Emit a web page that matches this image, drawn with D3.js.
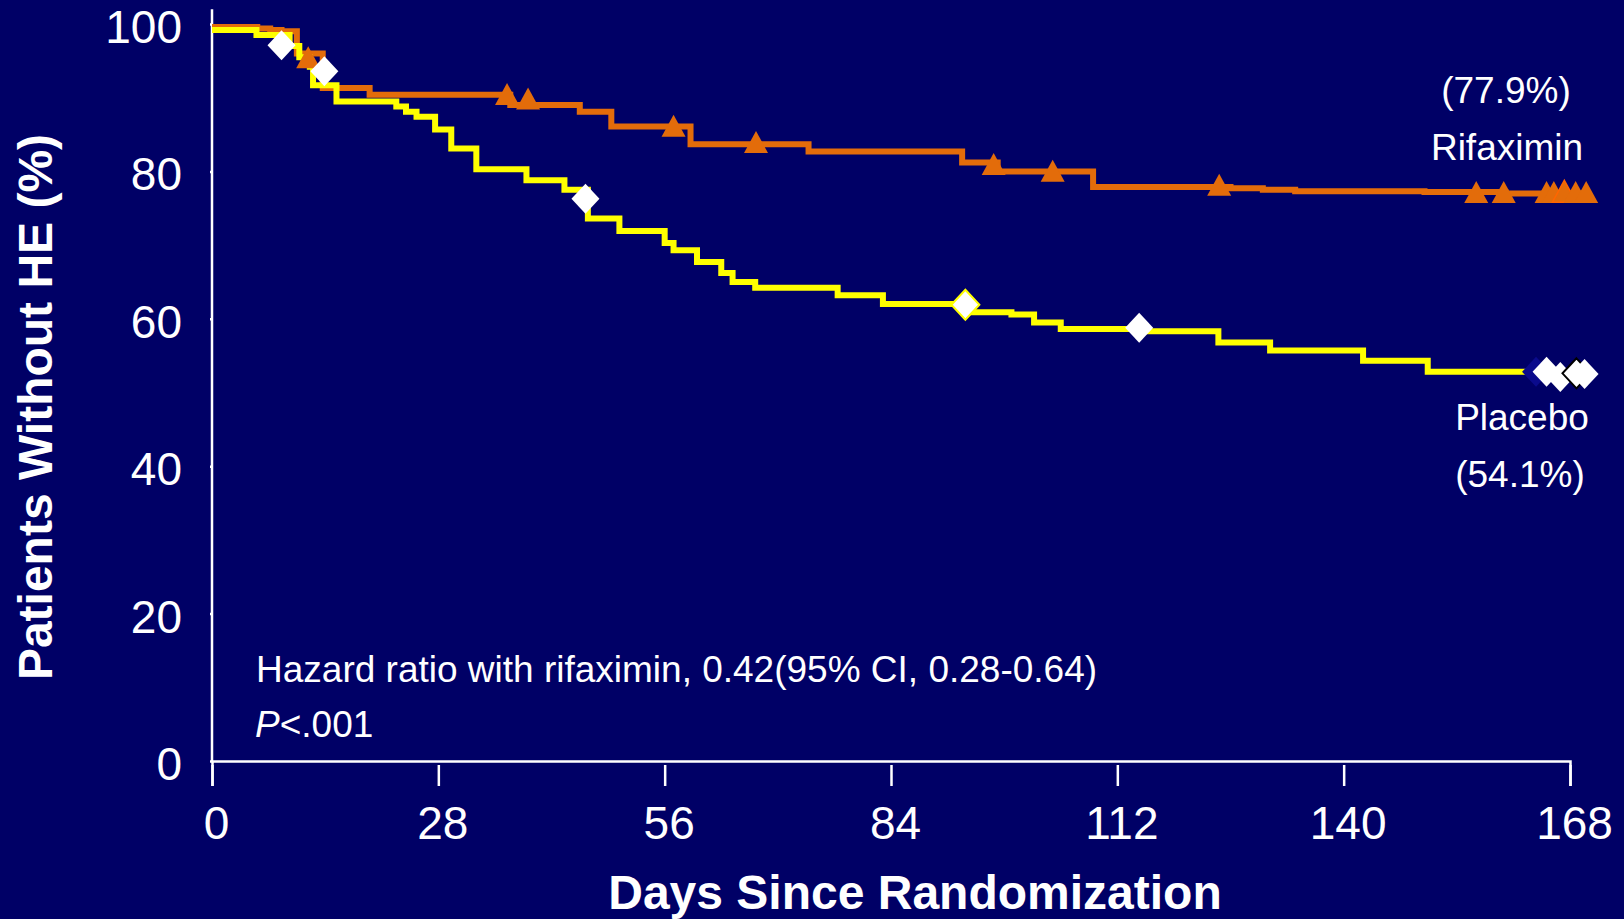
<!DOCTYPE html>
<html>
<head>
<meta charset="utf-8">
<script src="https://cdn.jsdelivr.net/npm/d3@7"></script>
<style>
  body { margin: 0; background: #000066; }
  svg { display: block; }
  text { font-family: "Liberation Sans", Arial, sans-serif; fill: #fff; }
</style>
</head>
<body>
<svg id="chart" width="1624" height="919"></svg>
<script>
// Kaplan-Meier steps (day, % without HE)
var rifaximinDays = [0, 5.6, 7.2, 8.6, 10.5, 13.7, 19.5, 36.9, 45.5, 49.4, 59.2, 73.8, 92.8, 97.2, 109, 126, 130, 134, 150, 160, 170];
var rifaximinPct  = [99.6, 99.4, 99.2, 99.0, 96.0, 91.3, 90.4, 89.0, 88.1, 86.1, 83.7, 82.7, 81.2, 80.0, 77.9, 77.7, 77.5, 77.3, 77.2, 77.0, 77.0];

var placeboDays = [0, 5.5, 9.6, 10.8, 12.1, 12.5, 15.4, 22.8, 24.0, 25.3, 27.6, 29.6, 32.7, 38.9, 43.6, 46.5, 50.4, 56, 57.1, 60, 63, 64.4, 67.2, 77.4, 83, 93.2, 98.9, 101.7, 105, 114.7, 124.5, 130.9, 142.4, 150.4, 162.6];
var placeboPct  = [99.2, 98.5, 97.0, 95.5, 94.2, 91.7, 89.5, 88.8, 88.1, 87.4, 85.7, 83.1, 80.3, 78.8, 77.5, 73.6, 71.9, 70.3, 69.3, 67.7, 66.2, 65.0, 64.2, 63.2, 62.0, 60.9, 60.6, 59.5, 58.6, 58.3, 56.8, 55.7, 54.3, 52.8, 52.8];

// censored patients
var rifCensorDays = [11.9, 36.5, 39.1, 57.1, 67.3, 96.7, 104, 124.6, 156.4, 159.8, 165.1, 166, 167.3, 168.7, 170];
var rifCensorPct  = [95.5, 90.5, 89.9, 86.2, 84.0, 81.0, 80.1, 78.2, 77.2, 77.2, 77.2, 77.2, 77.3, 77.2, 77.2];
var plaCensorDays = [8.6, 13.9, 46.2, 93.2, 114.7, 163.8, 165.1, 166.8, 168.8, 169.8];
var plaCensorPct  = [97.1, 93.6, 76.3, 61.9, 58.8, 52.8, 52.8, 52.1, 52.6, 52.5];

var xTicks = [0, 28, 56, 84, 112, 140, 168];
var yTicks = [0, 20, 40, 60, 80, 100];

var svg = d3.select("#chart");
svg.append("rect").attr("width", 1624).attr("height", 919).attr("fill", "#000066");

var x = d3.scaleLinear().domain([0, 168]).range([212, 1570]);
var y = d3.scaleLinear().domain([0, 100]).range([761, 24]);

/* axes */
var gx = svg.append("g").attr("transform", "translate(0," + y(0) + ")")
	.call(d3.axisBottom(x).tickValues(xTicks).tickSizeOuter(0).tickSize(25).tickPadding(20));
gx.selectAll(".tick line").attr("y1", 4).attr("stroke", "#fff").attr("stroke-width", 2.5);
gx.select(".domain").attr("stroke", "#fff").attr("stroke-width", 2.5);
gx.selectAll(".tick text").attr("font-size", 46).attr("font-family", "Liberation Sans, Arial").attr("fill", "#fff").attr("dx", 4);

var gy = svg.append("g").attr("transform", "translate(" + x(0) + ",0)")
	.call(d3.axisLeft(y).tickValues(yTicks).tickSizeOuter(0).tickSize(17).tickPadding(13));
gy.select(".domain").remove();
gy.selectAll(".tick line").attr("x2", -2).attr("stroke", "#fff").attr("stroke-width", 2.5);
gy.selectAll(".tick text").attr("font-size", 46).attr("font-family", "Liberation Sans, Arial").attr("fill", "#fff").attr("dy", "0.4em");
gy.append("line").attr("y1", y(102)).attr("y2", y(0)).attr("stroke", "#fff").attr("stroke-width", 2.5);

svg.append("text").attr("x", 915).attr("y", 909).attr("text-anchor", "middle")
	.attr("font-size", 48).attr("font-weight", "bold").text("Days Since Randomization");
svg.append("text").attr("transform", "translate(52,407) rotate(-90)").attr("text-anchor", "middle")
	.attr("font-size", 48).attr("font-weight", "bold").text("Patients Without HE (%)");

/* curves */
var line = d3.line().x(function(d) { return x(d[0]); }).y(function(d) { return y(d[1]); }).curve(d3.curveStepAfter);

svg.append("path").datum(d3.zip(rifaximinDays, rifaximinPct)).attr("d", line)
	.attr("fill", "none").attr("stroke", "#E36C0A").attr("stroke-width", 6);
svg.append("path").datum(d3.zip(placeboDays, placeboPct)).attr("d", line)
	.attr("fill", "none").attr("stroke", "#FFFF00").attr("stroke-width", 6);

// triangles, bbox centred on the point
svg.selectAll("path.tri").data(d3.zip(rifCensorDays, rifCensorPct)).enter()
	.append("path").attr("class", "tri")
	.attr("d", "M0,-11L12,11L-12,11Z")
	.attr("transform", function(d) { return "translate(" + x(d[0]) + "," + y(d[1]) + ")"; })
	.attr("fill", "#E36C0A")
	.attr("stroke", function(d, i) { return i == 12 ? "#FF6600" : "none"; })
	.attr("stroke-width", 1.5);

svg.selectAll("path.dia").data(d3.zip(plaCensorDays, plaCensorPct)).enter()
	.append("path").attr("class", "dia")
	.attr("d", "M0,-15L14,0L0,15L-14,0Z")
	.attr("transform", function(d) { return "translate(" + x(d[0]) + "," + y(d[1]) + ")"; })
	.attr("fill", function(d, i) { return i == 5 ? "#0a0a8c" : "#fff"; })
	.attr("stroke", function(d, i) { return i == 3 ? "#FFFF00" : (i == 8 ? "#000" : "none"); })
	.attr("stroke-width", 2);

/* labels */
svg.append("text").attr("x", 1506).attr("y", 103).attr("text-anchor", "middle").attr("font-size", 37).text("(77.9%)");
svg.append("text").attr("x", 1507).attr("y", 160).attr("text-anchor", "middle").attr("font-size", 37).text("Rifaximin");
svg.append("text").attr("x", 1522).attr("y", 430).attr("text-anchor", "middle").attr("font-size", 37).text("Placebo");
svg.append("text").attr("x", 1520).attr("y", 487).attr("text-anchor", "middle").attr("font-size", 37).text("(54.1%)");

svg.append("text").attr("x", 256).attr("y", 682).attr("font-size", 37)
	.text("Hazard ratio with rifaximin, 0.42(95% CI, 0.28-0.64)");
var p = svg.append("text").attr("x", 255).attr("y", 737).attr("font-size", 37);
p.append("tspan").attr("font-style", "italic").text("P");
p.append("tspan").text("<.001");
</script>
</body>
</html>
